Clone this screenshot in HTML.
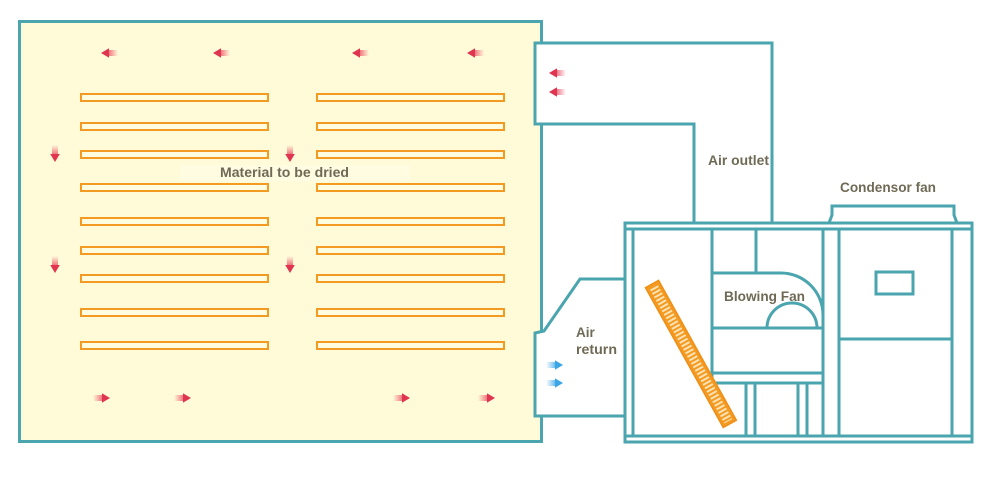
<!DOCTYPE html>
<html>
<head>
<meta charset="utf-8">
<style>
  html,body{margin:0;padding:0;background:#ffffff;}
  svg{display:block;}
  text{font-family:"Liberation Sans",sans-serif;fill:#6f6a55;font-size:13.5px;font-weight:bold;}
</style>
</head>
<body>
<svg width="993" height="477" viewBox="0 0 993 477" xmlns="http://www.w3.org/2000/svg">
  <defs>
    <linearGradient id="rg" x1="0" y1="0" x2="1" y2="0">
      <stop offset="0" stop-color="#e8405a" stop-opacity="0"/>
      <stop offset="1" stop-color="#e8405a" stop-opacity="0.85"/>
    </linearGradient>
    <linearGradient id="bg" x1="0" y1="0" x2="1" y2="0">
      <stop offset="0" stop-color="#3aa6e6" stop-opacity="0"/>
      <stop offset="1" stop-color="#3aa6e6" stop-opacity="0.9"/>
    </linearGradient>
    <g id="arr">
      <rect x="0" y="-3" width="11" height="6" fill="url(#rg)"/>
      <polygon points="9,-4.8 17,0 9,4.8" fill="#e03550"/>
    </g>
    <g id="barr">
      <rect x="0" y="-3" width="11" height="6" fill="url(#bg)"/>
      <polygon points="9,-4.8 17,0 9,4.8" fill="#3aa6e6"/>
    </g>
    <pattern id="rung" x="0" y="0" width="4" height="100" patternUnits="userSpaceOnUse">
      <rect x="0" y="0" width="2" height="100" fill="#ffe3b3"/>
    </pattern>
  </defs>

  <!-- Drying room -->
  <rect x="19.5" y="21.5" width="522" height="420" fill="#fffbd8" stroke="#4ba5ae" stroke-width="3"/>

  <!-- Shelves -->
  <g fill="#fffcdf" stroke="#f29a22" stroke-width="2">
    <rect x="81" y="94" width="187" height="7"/>
    <rect x="81" y="123" width="187" height="7"/>
    <rect x="81" y="151" width="187" height="7"/>
    <rect x="81" y="184" width="187" height="7"/>
    <rect x="81" y="218" width="187" height="7"/>
    <rect x="81" y="247" width="187" height="7"/>
    <rect x="81" y="275" width="187" height="7"/>
    <rect x="81" y="309" width="187" height="7"/>
    <rect x="81" y="342" width="187" height="7"/>

    <rect x="317" y="94" width="187" height="7"/>
    <rect x="317" y="123" width="187" height="7"/>
    <rect x="317" y="151" width="187" height="7"/>
    <rect x="317" y="184" width="187" height="7"/>
    <rect x="317" y="218" width="187" height="7"/>
    <rect x="317" y="247" width="187" height="7"/>
    <rect x="317" y="275" width="187" height="7"/>
    <rect x="317" y="309" width="187" height="7"/>
    <rect x="317" y="342" width="187" height="7"/>
  </g>

  <!-- Label in room -->
  <rect x="180" y="165" width="230" height="16" fill="#ffffff" opacity="0.25"/>
  <text x="220" y="177" textLength="129" lengthAdjust="spacingAndGlyphs">Material to be dried</text>

  <!-- Red arrows in room -->
  <use href="#arr" transform="translate(118,53) scale(-1,1)"/>
  <use href="#arr" transform="translate(230,53) scale(-1,1)"/>
  <use href="#arr" transform="translate(369,53) scale(-1,1)"/>
  <use href="#arr" transform="translate(484,53) scale(-1,1)"/>

  <use href="#arr" transform="translate(55,145) rotate(90)"/>
  <use href="#arr" transform="translate(290,145) rotate(90)"/>
  <use href="#arr" transform="translate(55,256) rotate(90)"/>
  <use href="#arr" transform="translate(290,256) rotate(90)"/>

  <use href="#arr" transform="translate(93,398)"/>
  <use href="#arr" transform="translate(174,398)"/>
  <use href="#arr" transform="translate(393,398)"/>
  <use href="#arr" transform="translate(478,398)"/>

  <!-- Outlet duct -->
  <path d="M694,223 L694,124 L535,124 L535,43 L772,43 L772,223" fill="#ffffff" stroke="#4ba5ae" stroke-width="3"/>
  <use href="#arr" transform="translate(566,73) scale(-1,1)"/>
  <use href="#arr" transform="translate(566,92) scale(-1,1)"/>
  <text x="708" y="165" textLength="61" lengthAdjust="spacingAndGlyphs">Air outlet</text>

  <!-- Air return duct -->
  <path d="M625,279 L580,279 L544,331 L535,333 L535,416 L625,416" fill="#ffffff" stroke="#4ba5ae" stroke-width="3"/>
  <text x="576" y="337">Air</text>
  <text x="576" y="354" textLength="41" lengthAdjust="spacingAndGlyphs">return</text>
  <use href="#barr" transform="translate(546,365)"/>
  <use href="#barr" transform="translate(546,383)"/>

  <!-- Unit -->
  <g fill="none" stroke="#4ba5ae" stroke-width="3">
    <path d="M829,223 L832,215 L832,206 L954,206 L954,215 L957,223"/>
    <rect x="625" y="223" width="347" height="219" fill="#ffffff"/>
    <line x1="625" y1="229" x2="972" y2="229"/>
    <line x1="625" y1="436" x2="972" y2="436"/>
    <line x1="633" y1="229" x2="633" y2="436"/>
    <line x1="823" y1="229" x2="823" y2="436"/>
    <line x1="839" y1="229" x2="839" y2="436"/>
    <line x1="952" y1="229" x2="952" y2="436"/>
    <line x1="756" y1="229" x2="756" y2="273"/>
    <line x1="712" y1="229" x2="712" y2="383"/>
    <path d="M712,273 L781,273 A42,42 0 0 1 823,315"/>
    <line x1="712" y1="328" x2="823" y2="328"/>
    <path d="M767,328 A25,25 0 0 1 817,328"/>
    <line x1="712" y1="373" x2="823" y2="373"/>
    <line x1="712" y1="383" x2="823" y2="383"/>
    <line x1="746" y1="383" x2="746" y2="436"/>
    <line x1="755" y1="383" x2="755" y2="436"/>
    <line x1="798" y1="383" x2="798" y2="436"/>
    <line x1="807" y1="383" x2="807" y2="436"/>
    <line x1="839" y1="339" x2="952" y2="339"/>
    <rect x="876" y="272" width="37" height="22"/>
  </g>
  <text x="724" y="301" textLength="81" lengthAdjust="spacingAndGlyphs">Blowing Fan</text>
  <text x="840" y="192" textLength="96" lengthAdjust="spacingAndGlyphs">Condensor fan</text>

  <!-- Evaporator coil -->
  <g transform="translate(652,284) rotate(60.9)">
    <rect x="0" y="-7.5" width="160" height="15" fill="#f39a22" stroke="#f08f18" stroke-width="1.5"/>
    <rect x="3" y="-4.5" width="154" height="9" fill="url(#rung)"/>
  </g>
</svg>
</body>
</html>
